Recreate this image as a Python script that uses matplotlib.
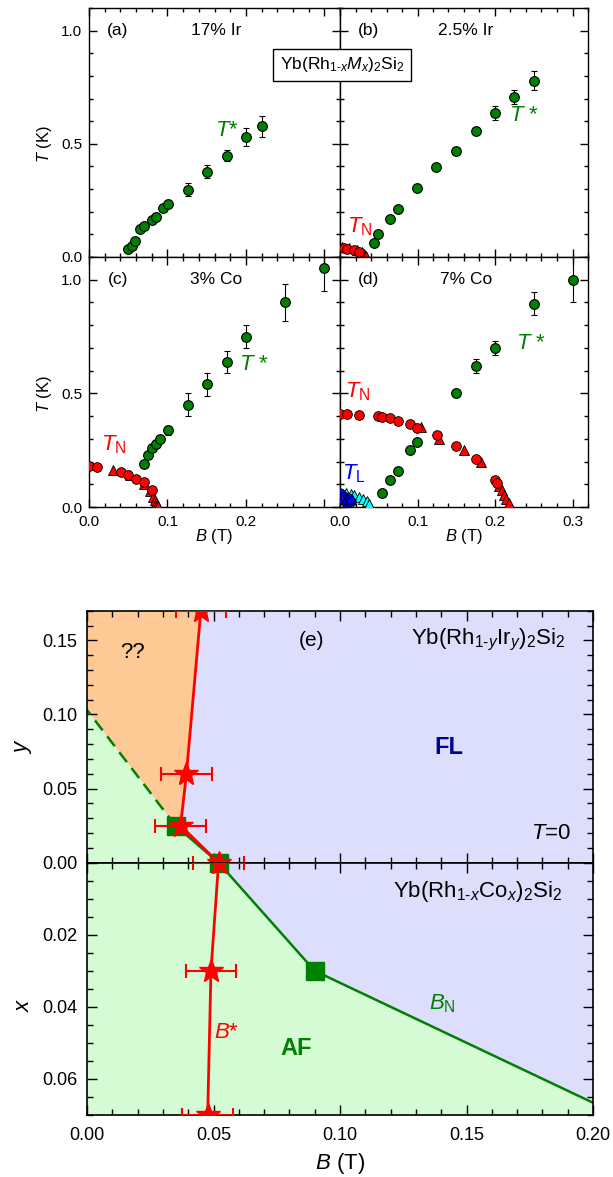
import matplotlib
matplotlib.use('Agg')
import matplotlib.pyplot as plt
from matplotlib.ticker import MultipleLocator, FixedLocator

plt.rcParams['font.family'] = ['Liberation Sans', 'DejaVu Sans']
plt.rcParams['mathtext.fontset'] = 'custom'
plt.rcParams['mathtext.rm'] = 'Liberation Sans'
plt.rcParams['mathtext.it'] = 'Liberation Sans:italic'
plt.rcParams['mathtext.bf'] = 'Liberation Sans:bold'
plt.rcParams['hatch.linewidth'] = 0.6

# ---------------- data: panels (a)-(d) ----------------
# (a) 17% Ir
a_B = [0.0496, 0.0547, 0.0585, 0.065, 0.0705, 0.080, 0.0855, 0.094, 0.1004, 0.126, 0.150, 0.1756, 0.200, 0.2205]
a_T = [0.034, 0.048, 0.069, 0.122, 0.137, 0.163, 0.175, 0.216, 0.236, 0.297, 0.377, 0.448, 0.529, 0.577]
a_err = [0, 0, 0, 0, 0, 0, 0, 0, 0, 0.029, 0.028, 0.026, 0.04, 0.048]

# (b) 2.5% Ir
b_B = [0.044, 0.049, 0.065, 0.075, 0.0996, 0.1245, 0.150, 0.175, 0.200, 0.225, 0.250]
b_T = [0.060, 0.100, 0.169, 0.213, 0.307, 0.396, 0.467, 0.558, 0.636, 0.708, 0.778]
b_err = [0.01, 0.01, 0, 0, 0, 0, 0, 0, 0.032, 0.03, 0.042]
b_TN_circ_B = [0.0055, 0.009, 0.0184, 0.025]
b_TN_circ_T = [0.038, 0.034, 0.031, 0.023]
b_TN_tri_B = [0.002, 0.012, 0.022, 0.028, 0.031, 0.034]
b_TN_tri_T = [0.045, 0.040, 0.033, 0.022, 0.012, 0.004]

# (c) 3% Co
c_B = [0.0705, 0.075, 0.080, 0.0855, 0.091, 0.101, 0.126, 0.151, 0.1756, 0.200, 0.250, 0.2996]
c_T = [0.19, 0.229, 0.258, 0.278, 0.299, 0.338, 0.45, 0.54, 0.638, 0.749, 0.90, 1.052]
c_err = [0, 0.01, 0.01, 0.015, 0.015, 0.02, 0.05, 0.05, 0.05, 0.05, 0.08, 0.10]
c_TN_circ_B = [0.0, 0.0107, 0.0406, 0.050, 0.060, 0.0705, 0.080]
c_TN_circ_T = [0.18, 0.174, 0.153, 0.139, 0.124, 0.108, 0.074]
c_TN_tri_B = [0.031, 0.052, 0.070, 0.078, 0.082, 0.084, 0.086, 0.087, 0.088]
c_TN_tri_T = [0.165, 0.143, 0.102, 0.07, 0.045, 0.03, 0.018, 0.009, 0.003]

# (d) 7% Co
d_B = [0.054, 0.0645, 0.075, 0.0898, 0.0996, 0.150, 0.175, 0.200, 0.250, 0.301]
d_T = [0.063, 0.121, 0.16, 0.25, 0.285, 0.50, 0.62, 0.70, 0.895, 1.0]
d_err = [0, 0, 0, 0, 0, 0, 0.031, 0.03, 0.05, 0.1]
d_TN_circ_B = [0.0, 0.009, 0.025, 0.0486, 0.054, 0.0645, 0.075, 0.0898, 0.0996, 0.1246, 0.150, 0.175, 0.200, 0.2025]
d_TN_circ_T = [0.409, 0.409, 0.406, 0.40, 0.397, 0.39, 0.379, 0.365, 0.349, 0.319, 0.269, 0.21, 0.119, 0.104]
d_TN_tri_B = [0.105, 0.128, 0.160, 0.182, 0.205, 0.2085, 0.211, 0.2145, 0.218]
d_TN_tri_T = [0.35, 0.30, 0.253, 0.20, 0.094, 0.075, 0.053, 0.034, 0.017]
d_TL_circ_B = [0.001, 0.004, 0.006, 0.009, 0.012, 0.015]
d_TL_circ_T = [0.059, 0.030, 0.044, 0.015, 0.037, 0.022]
d_TL_tri_B = [0.008, 0.014, 0.018, 0.024, 0.030, 0.035, 0.038]
d_TL_tri_T = [0.060, 0.056, 0.052, 0.044, 0.037, 0.026, 0.015]

# ---------------- data: panel (e) ----------------
# upper half: Yb(Rh1-yIry)2Si2, y vs B
up_Bstar_B = [0.052, 0.037, 0.0393, 0.045]
up_Bstar_y = [0.0, 0.025, 0.060, 0.17]
up_Bstar_err = [0.01, 0.01, 0.01, 0.01]
up_BN_B = [0.052, 0.035]
up_BN_y = [0.0, 0.025]
up_dash_B = [0.035, 0.0]
up_dash_y = [0.025, 0.103]
# lower half: Yb(Rh1-xCox)2Si2, x vs B
lo_Bstar_B = [0.052, 0.049, 0.0477]
lo_Bstar_x = [0.0, 0.030, 0.070]
lo_Bstar_err = [0.01, 0.01, 0.01]
lo_BN_B = [0.052, 0.090, 0.200]
lo_BN_x = [0.0, 0.030, 0.0666]

# ---------------- style ----------------
GREEN = '#008000'
RED = '#FF0000'
C_OR = '#FDC995'
C_BL = '#DDDEFB'
C_GR = '#D5FBD5'

W, H = 613, 1177
fig = plt.figure(figsize=(W / 100, H / 100), dpi=100)


def fr(x0, y0, x1, y1):
    return [x0 / W, 1 - y1 / H, (x1 - x0) / W, (y1 - y0) / H]


ax_a = fig.add_axes(fr(89, 8, 340, 257))
ax_b = fig.add_axes(fr(340, 8, 588, 257))
ax_c = fig.add_axes(fr(89, 257, 340, 507))
ax_d = fig.add_axes(fr(340, 257, 588, 507))

for ax in (ax_a, ax_b, ax_c, ax_d):
    ax.set_xlim(0, 0.32)
    ax.set_ylim(0, 1.1)
    ax.xaxis.set_major_locator(MultipleLocator(0.1))
    ax.xaxis.set_minor_locator(MultipleLocator(0.02))
    ax.yaxis.set_major_locator(MultipleLocator(0.5))
    ax.yaxis.set_minor_locator(MultipleLocator(0.1))
    ax.tick_params(which='both', direction='in', top=True, right=True,
                   labelsize=11, width=1.0)
    ax.tick_params(which='major', length=5.5)
    ax.tick_params(which='minor', length=3)
    ax.tick_params(axis='x', pad=6)
    ax.tick_params(axis='y', pad=5)
    for s in ax.spines.values():
        s.set_linewidth(1.0)

ax_a.tick_params(labelbottom=False)
ax_b.tick_params(labelbottom=False, labelleft=False)
ax_d.tick_params(labelleft=False)
ax_c.xaxis.set_major_locator(FixedLocator([0.0, 0.1, 0.2, 0.3]))
ax_c.xaxis.set_major_formatter(matplotlib.ticker.FixedFormatter(['0.0', '0.1', '0.2', '']))
for ax in (ax_a, ax_b, ax_c, ax_d):
    ax.yaxis.set_major_formatter(matplotlib.ticker.FormatStrFormatter('%.1f'))
ax_d.xaxis.set_major_formatter(matplotlib.ticker.FormatStrFormatter('%.1f'))


def green(ax, B, T, err):
    ax.errorbar(B, T, yerr=err, fmt='o', color=GREEN, ms=7, mec='black', mew=0.8,
                ecolor='black', elinewidth=0.8, capsize=2.5, capthick=0.8, zorder=5)


def red(ax, Bc, Tc, Bt, Tt):
    ax.plot(Bt, Tt, marker='^', color=RED, ms=7, mec='black', mew=0.6, ls='none', zorder=4)
    ax.plot(Bc, Tc, marker='o', color=RED, ms=7, mec='black', mew=0.6, ls='none', zorder=4)


green(ax_a, a_B, a_T, a_err)
green(ax_b, b_B, b_T, b_err)
red(ax_b, b_TN_circ_B, b_TN_circ_T, b_TN_tri_B, b_TN_tri_T)
green(ax_c, c_B, c_T, c_err)
red(ax_c, c_TN_circ_B, c_TN_circ_T, c_TN_tri_B, c_TN_tri_T)
green(ax_d, d_B, d_T, d_err)
red(ax_d, d_TN_circ_B, d_TN_circ_T, d_TN_tri_B, d_TN_tri_T)
ax_d.plot(d_TL_tri_B, d_TL_tri_T, marker='^', color='#00FFFF', ms=7, mec='black', mew=0.6,
          ls='none', zorder=4)
ax_d.scatter(d_TL_circ_B, d_TL_circ_T, s=45, marker='o', facecolor='#0000FF',
             edgecolor='black', linewidth=0.6, hatch='++', zorder=5)

for ax, lab, comp in ((ax_a, '(a)', '17% Ir'), (ax_b, '(b)', '2.5% Ir'),
                      (ax_c, '(c)', '3% Co'), (ax_d, '(d)', '7% Co')):
    ax.text(0.037, 1.0, lab, ha='center', va='center', fontsize=12.5)
    ax.text(0.1625, 1.0, comp, ha='center', va='center', fontsize=12.5)

ax_a.text(0.1765, 0.56, r'$T$*', color=GREEN, fontsize=16, ha='center', va='center')
ax_b.text(0.2375, 0.626, r'$T$ *', color=GREEN, fontsize=16, ha='center', va='center')
ax_c.text(0.2107, 0.625, r'$T$ *', color=GREEN, fontsize=16, ha='center', va='center')
ax_d.text(0.246, 0.72, r'$T$ *', color=GREEN, fontsize=16, ha='center', va='center')
ax_b.text(0.025, 0.133, r'$T_\mathrm{N}$', color=RED, fontsize=16, ha='center', va='center')
ax_c.text(0.031, 0.272, r'$T_\mathrm{N}$', color=RED, fontsize=16, ha='center', va='center')
ax_d.text(0.023, 0.507, r'$T_\mathrm{N}$', color=RED, fontsize=16, ha='center', va='center')
ax_d.text(0.018, 0.147, r'$T_\mathrm{L}$', color='#0000FF', fontsize=16, ha='center', va='center')

fig.text(342 / W, 1 - 65 / H, r'Yb(Rh$_{1\text{-}x}M_{x}$)$_2$Si$_2$', ha='center', va='center',
         fontsize=12.5, zorder=20,
         bbox=dict(boxstyle='square,pad=0.4', fc='white', ec='black', lw=1.0))

fig.text(45 / W, 1 - 144 / H, r'$T$ (K)', rotation=90, ha='center', va='center', fontsize=12)
fig.text(45 / W, 1 - 394 / H, r'$T$ (K)', rotation=90, ha='center', va='center', fontsize=12)
fig.text(214 / W, 1 - 536 / H, r'$B$ (T)', ha='center', va='center', fontsize=12)
fig.text(464 / W, 1 - 536 / H, r'$B$ (T)', ha='center', va='center', fontsize=12)

# ---------------- panel (e) ----------------
ax_u = fig.add_axes(fr(87, 610.7, 593, 862.7))
ax_l = fig.add_axes(fr(87, 862.7, 593, 1115))

ax_u.set_xlim(0, 0.2)
ax_u.set_ylim(0, 0.17)
ax_l.set_xlim(0, 0.2)
ax_l.set_ylim(0.07, 0)

# fills (upper)
green_poly_u = [(0, 0), (up_dash_B[1], up_dash_y[1]), (up_dash_B[0], up_dash_y[0]),
                (up_Bstar_B[0], up_Bstar_y[0])]
orange_poly_u = [(up_dash_B[1], up_dash_y[1]), (0, 0.17), (up_Bstar_B[3], up_Bstar_y[3]),
                 (up_Bstar_B[2], up_Bstar_y[2]), (up_Bstar_B[1], up_Bstar_y[1]),
                 (up_dash_B[0], up_dash_y[0])]
blue_poly_u = [(up_Bstar_B[0], up_Bstar_y[0]), (up_Bstar_B[1], up_Bstar_y[1]),
               (up_Bstar_B[2], up_Bstar_y[2]), (up_Bstar_B[3], up_Bstar_y[3]),
               (0.2, 0.17), (0.2, 0)]
for poly, col in ((green_poly_u, C_GR), (orange_poly_u, C_OR), (blue_poly_u, C_BL)):
    xs, ys = zip(*poly)
    ax_u.fill(xs, ys, color=col, lw=0, zorder=0)

# fills (lower)
green_poly_l = [(0, 0)] + list(zip(lo_BN_B, lo_BN_x)) + [(0.2, 0.07), (0, 0.07)]
blue_poly_l = list(zip(lo_BN_B, lo_BN_x)) + [(0.2, 0)]
for poly, col in ((green_poly_l, C_GR), (blue_poly_l, C_BL)):
    xs, ys = zip(*poly)
    ax_l.fill(xs, ys, color=col, lw=0, zorder=0)

# lines upper
ax_u.plot(up_dash_B, up_dash_y, color=GREEN, lw=1.8, ls=(0, (5, 3)), zorder=2)
ax_u.plot(up_BN_B, up_BN_y, color=GREEN, lw=1.8, zorder=2)
ax_u.plot(up_BN_B, up_BN_y, marker='s', ms=13, color=GREEN, ls='none', zorder=3)
ax_u.plot(up_Bstar_B, up_Bstar_y, color=RED, lw=2, zorder=4)
ax_u.errorbar(up_Bstar_B, up_Bstar_y, xerr=up_Bstar_err, fmt='*', color=RED, ms=18,
              ecolor=RED, elinewidth=1.5, capsize=5, capthick=1.5, zorder=5)

# lines lower
ax_l.plot(lo_BN_B, lo_BN_x, color=GREEN, lw=1.8, zorder=2)
ax_l.plot(lo_BN_B[:2], lo_BN_x[:2], marker='s', ms=13, color=GREEN, ls='none', zorder=3)
ax_l.plot(lo_Bstar_B, lo_Bstar_x, color=RED, lw=2, zorder=4)
ax_l.errorbar(lo_Bstar_B, lo_Bstar_x, xerr=lo_Bstar_err, fmt='*', color=RED, ms=18,
              ecolor=RED, elinewidth=1.5, capsize=5, capthick=1.5, zorder=5)

for ax in (ax_u, ax_l):
    ax.xaxis.set_major_locator(MultipleLocator(0.05))
    ax.xaxis.set_minor_locator(MultipleLocator(0.01))
    ax.tick_params(which='both', direction='in', top=True, right=True, labelsize=13, width=1.0)
    ax.tick_params(which='major', length=7)
    ax.tick_params(which='minor', length=4)
    ax.tick_params(axis='y', pad=7)
    ax.tick_params(axis='x', pad=9)
    for s in ax.spines.values():
        s.set_linewidth(1.2)
ax_u.yaxis.set_major_locator(MultipleLocator(0.05))
ax_u.yaxis.set_minor_locator(MultipleLocator(0.01))
ax_u.yaxis.set_major_formatter(matplotlib.ticker.FormatStrFormatter('%.2f'))
ax_u.tick_params(labelbottom=False)
ax_l.yaxis.set_major_locator(FixedLocator([0.0, 0.02, 0.04, 0.06]))
ax_l.yaxis.set_minor_locator(MultipleLocator(0.005))
ax_l.yaxis.set_major_formatter(matplotlib.ticker.FixedFormatter(['', '0.02', '0.04', '0.06']))
ax_l.xaxis.set_major_formatter(matplotlib.ticker.FormatStrFormatter('%.2f'))

ax_u.text(0.0889, 0.15, '(e)', ha='center', va='center', fontsize=15)
ax_u.text(0.189, 0.15, r'Yb(Rh$_{1\text{-}y}$Ir$_{y}$)$_2$Si$_2$', ha='right', va='center', fontsize=16)
ax_u.text(0.018, 0.142, '??', ha='center', va='center', fontsize=16)
ax_u.text(0.143, 0.078, 'FL', ha='center', va='center', fontsize=17, fontweight='bold', color='#00009A')
ax_u.text(0.1915, 0.020, r'$T$=0', ha='right', va='center', fontsize=16)
ax_l.text(0.188, 0.008, r'Yb(Rh$_{1\text{-}x}$Co$_{x}$)$_2$Si$_2$', ha='right', va='center', fontsize=16)
ax_l.text(0.1404, 0.039, r'$B_\mathrm{N}$', ha='center', va='center', fontsize=16, color=GREEN)
ax_l.text(0.0553, 0.047, r'$B$*', ha='center', va='center', fontsize=16, color=RED)
ax_l.text(0.0827, 0.0515, 'AF', ha='center', va='center', fontsize=17, fontweight='bold', color=GREEN)

fig.text(24 / W, 1 - 746.7 / H, r'$y$', ha='center', va='center', fontsize=16, rotation=90)
fig.text(24 / W, 1 - 1005 / H, r'$x$', ha='center', va='center', fontsize=16, rotation=90)
fig.text(340 / W, 1 - 1163 / H, r'$B$ (T)', ha='center', va='center', fontsize=16)

fig.savefig('out.png', dpi=100)
